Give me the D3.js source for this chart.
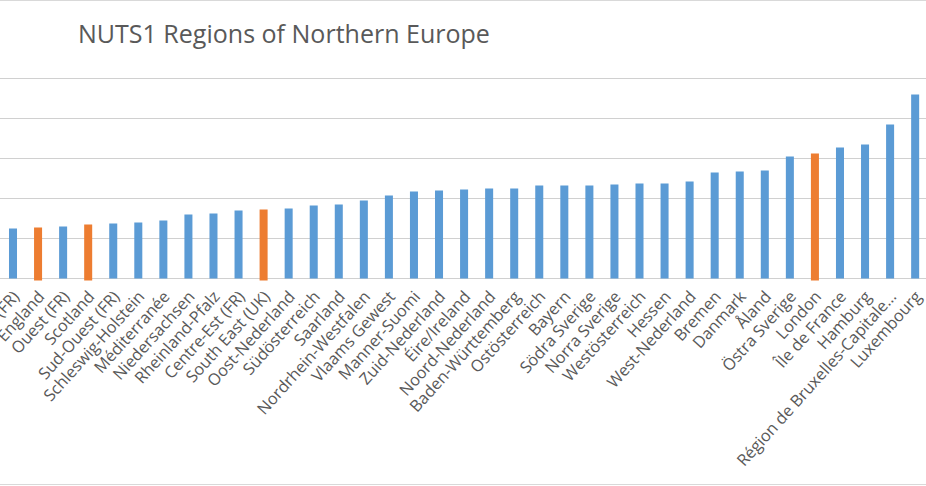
<!DOCTYPE html>
<html>
<head>
<meta charset="utf-8">
<script src="https://cdn.jsdelivr.net/npm/d3@7"></script>
<style>
  html, body { margin: 0; padding: 0; background: #fff; }
  svg { display: block; }
</style>
</head>
<body>
<script>
// ---- Data ----
const categories = [
  "Nord-Pas-de-Calais (FR)", "England", "Ouest (FR)", "Scotland", "Sud-Ouest (FR)",
  "Schleswig-Holstein", "Méditerranée", "Niedersachsen", "Rheinland-Pfalz", "Centre-Est (FR)",
  "South East (UK)", "Oost-Nederland", "Südösterreich", "Saarland", "Nordrhein-Westfalen",
  "Vlaams Gewest", "Manner-Suomi", "Zuid-Nederland", "Éire/Ireland", "Noord-Nederland",
  "Baden-Württemberg", "Ostösterreich", "Bayern", "Södra Sverige", "Norra Sverige",
  "Westösterreich", "Hessen", "West-Nederland", "Bremen", "Danmark",
  "Åland", "Östra Sverige", "London", "Île de France", "Hamburg",
  "Région de Bruxelles-Capitale…", "Luxembourg"
];
const values = [
  25, 25.5, 26, 27, 27.5,
  28, 29, 32, 32.5, 34,
  34.5, 35, 36.5, 37, 39,
  41.5, 43.5, 44, 44.5, 45,
  45, 46.5, 46.5, 46.5, 47,
  47.5, 47.5, 48.5, 53, 53.5,
  54, 61, 62.5, 65.5, 67,
  77, 92
];
const ukRegions = ["England", "Scotland", "South East (UK)", "London"];
const yTicks = [0, 20, 40, 60, 80, 100];
const title = "NUTS1 Regions of Northern Europe";

// ---- Layout ----
const W = 926, H = 486;
const svg = d3.select("body").append("svg").attr("width", W).attr("height", H);

const step = 25.06, firstCenter = 13;
const x = d3.scaleBand()
  .domain(categories)
  .range([firstCenter - step / 2, firstCenter - step / 2 + step * categories.length])
  .paddingInner(0.68)
  .paddingOuter(0.34);
const y = d3.scaleLinear().domain([0, 100]).range([278.5, 78.5]);

// chart border (top/bottom visible)
svg.append("line").attr("x1", 0).attr("x2", W).attr("y1", 0.5).attr("y2", 0.5)
  .attr("stroke", "#d9d9d9");
svg.append("line").attr("x1", 0).attr("x2", W).attr("y1", 484.5).attr("y2", 484.5)
  .attr("stroke", "#d9d9d9");

// gridlines
svg.append("g").selectAll("line").data(yTicks).join("line")
  .attr("x1", 0).attr("x2", W)
  .attr("y1", d => y(d)).attr("y2", d => y(d))
  .attr("stroke", "#d0d0d0").attr("stroke-width", 1);

// bars
const isUK = d => ukRegions.includes(d);
svg.append("g").selectAll("rect").data(categories).join("rect")
  .attr("x", d => x(d))
  .attr("width", x.bandwidth())
  .attr("y", (d, i) => y(values[i]))
  .attr("height", (d, i) => y(0) - y(values[i]) + (isUK(d) ? 2 : 0))
  .attr("fill", d => isUK(d) ? "#ED7D31" : "#5B9BD5");

// category labels
const labelG = svg.append("g")
  .attr("font-family", "'Open Sans', sans-serif")
  .attr("font-size", 16.3)
  .attr("fill", "#595959");
labelG.selectAll("text").data(categories).join("text")
  .attr("text-anchor", "end")
  .attr("dy", "0.35em")
  .attr("transform", d => `translate(${x(d) + x.bandwidth() / 2 + 3},${y(0) + 15}) rotate(-48)`)
  .text(d => d);

// title
const t = svg.append("text")
  .attr("x", 78).attr("y", 43)
  .attr("font-family", "'Open Sans', sans-serif")
  .attr("font-size", 20)
  .attr("fill", "#595959")
  .text(title);
const w = t.node().getComputedTextLength();
t.attr("font-size", 20 * 412 / w);
</script>
</body>
</html>
